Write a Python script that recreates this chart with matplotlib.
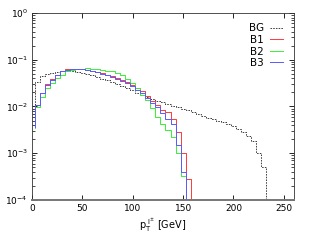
import matplotlib
matplotlib.use('Agg')
import matplotlib.pyplot as plt
import numpy as np

# bin centres (GeV); value k is the level between centre k-1 and centre k
bg = [0.0105, 0.034, 0.045, 0.050, 0.053, 0.055, 0.057, 0.057, 0.056, 0.054,
      0.051, 0.049, 0.046, 0.042, 0.039, 0.036, 0.033, 0.030, 0.027, 0.025,
      0.022, 0.0195, 0.0175, 0.0158, 0.0145, 0.0132, 0.0122, 0.0112, 0.0104, 0.0096,
      0.0089, 0.0082, 0.0075, 0.0069, 0.0063, 0.0058, 0.0054, 0.0050, 0.0046, 0.0042,
      0.0038, 0.0033, 0.0028, 0.0023, 0.0018, 0.0010, 0.0005, 0.0]
b1 = [0.0037, 0.0108, 0.019, 0.030, 0.038, 0.047, 0.057, 0.062, 0.064, 0.063,
      0.062, 0.061, 0.058, 0.055, 0.052, 0.048, 0.045, 0.041, 0.037, 0.033,
      0.029, 0.025, 0.021, 0.017, 0.013, 0.0105, 0.0085, 0.0075, 0.0053, 0.0029,
      0.0010, 0.00028, 0.0]
b2 = [0.0034, 0.0095, 0.016, 0.025, 0.032, 0.040, 0.046, 0.057, 0.060, 0.063,
      0.063, 0.065, 0.063, 0.063, 0.060, 0.058, 0.056, 0.051, 0.046, 0.039,
      0.031, 0.0245, 0.0177, 0.0138, 0.0092, 0.006, 0.0042, 0.0031, 0.0022, 0.0010,
      0.00032, 0.0]
b3 = [0.0037, 0.0108, 0.019, 0.029, 0.037, 0.046, 0.056, 0.061, 0.063, 0.063,
      0.062, 0.060, 0.057, 0.054, 0.050, 0.047, 0.043, 0.039, 0.035, 0.031,
      0.027, 0.023, 0.019, 0.015, 0.012, 0.0095, 0.0073, 0.0055, 0.0042, 0.0015,
      0.0004, 0.0]

bin_width = 5.0
xticks = [0, 50, 100, 150, 200, 250]


def centres(vals):
    return bin_width / 2 + bin_width * np.arange(len(vals))


fig = plt.figure(figsize=(3.11, 2.45), dpi=100)
ax = fig.add_axes([0.103, 0.184, 0.842, 0.763])

ax.step(centres(bg), bg, where='pre', color='#404040', lw=0.7,
        ls=(0, (1.6, 1.2)), label='BG')
ax.step(centres(b1), b1, where='pre', color='#ff3a3a', lw=0.7, label='B1')
ax.step(centres(b2), b2, where='pre', color='#3aee3a', lw=0.7, label='B2')
ax.step(centres(b3), b3, where='pre', color='#5a5aff', lw=0.7, label='B3')

ax.set_yscale('log')
ax.set_xlim(0, 260)
ax.set_ylim(1e-4, 1)
ax.set_xticks(xticks)
ax.set_xticklabels([str(t) for t in xticks])

ax.tick_params(which='both', direction='in', top=True, right=True,
               labelsize=6.5, pad=3)
ax.tick_params(which='major', length=3.5, width=0.6)
ax.tick_params(which='minor', length=2, width=0.5)

for s in ['left', 'top', 'right']:
    ax.spines[s].set_linewidth(0.6)
    ax.spines[s].set_color('#333333')
ax.spines['bottom'].set_linewidth(1.4)
ax.spines['bottom'].set_color('#777777')

ax.set_xlabel(r'$\mathregular{p_T^{\ l^{\pm}}}$ [GeV]', fontsize=7, labelpad=2)

ax.legend(loc='upper right', frameon=False, markerfirst=False, fontsize=7.5,
          handlelength=1.3, handletextpad=0.6, labelspacing=0.15,
          borderaxespad=0.6)

fig.savefig('out.png', dpi=100)
